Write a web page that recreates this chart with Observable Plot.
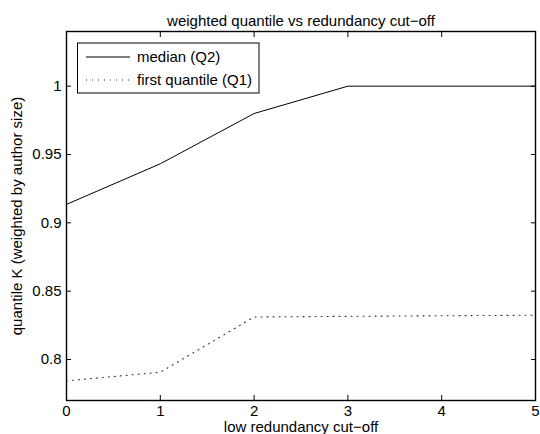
<!DOCTYPE html>
<html><head><meta charset="utf-8">
<script src="https://cdn.jsdelivr.net/npm/d3@7"></script>
<script src="https://cdn.jsdelivr.net/npm/@observablehq/plot@0.6"></script>
<style>
body{margin:0;background:#fff} svg{display:block}
svg g[aria-label$="tick label"] text{font-size:15px}
</style>
</head><body><div id="chart"></div>
<script>
const cutoff = [0, 1, 2, 3, 4, 5];
const median = [0.9135, 0.9432, 0.9800, 1.0000, 1.0000, 1.0000];
const firstQuantile = [0.7844, 0.7907, 0.8311, 0.8316, 0.8320, 0.8324];
const xTicks = [0, 1, 2, 3, 4, 5];
const yTicks = [0.8, 0.85, 0.9, 0.95, 1];
const seriesNames = ["median (Q2)", "first quantile (Q1)"];
const title = "weighted quantile vs redundancy cut\u2212off";
const xLabel = "low redundancy cut\u2212off";
const yLabel = "quantile K (weighted by author size)";

const medianData = cutoff.map((x, i) => ({x, y: median[i]}));
const q1Data = cutoff.map((x, i) => ({x, y: firstQuantile[i]}));

const FONT = "'Liberation Sans', Arial, Helvetica, sans-serif";
const DOTS = "1,5";

const plot = Plot.plot({
  width: 540,
  height: 434,
  marginLeft: 66,
  marginRight: 5,
  marginTop: 31,
  marginBottom: 34,
  style: {fontFamily: FONT, fontSize: "15px", color: "#000", background: "#fff", overflow: "visible"},
  x: {domain: [0, 5]},
  y: {domain: [0.77, 1.04]},
  marks: [
    Plot.axisX({ticks: xTicks, anchor: "bottom", tickSize: -5, tickPadding: 10, tickFormat: d => String(d),
      label: xLabel, labelAnchor: "center", labelArrow: "none", labelOffset: 31, fontSize: 15}),
    Plot.axisX({ticks: xTicks, anchor: "top", tickSize: -5, tickFormat: () => "", label: null}),
    Plot.axisY({ticks: yTicks, anchor: "left", tickSize: -5, tickPadding: 10, tickFormat: d => String(d),
      label: yLabel, labelAnchor: "center", labelArrow: "none", labelOffset: 55, fontSize: 15}),
    Plot.axisY({ticks: yTicks, anchor: "right", tickSize: -5, tickFormat: () => "", label: null}),
    Plot.frame({stroke: "#000", strokeWidth: 1.4}),
    Plot.line(medianData, {x: "x", y: "y", stroke: "#000", strokeWidth: 1}),
    Plot.line(q1Data, {x: "x", y: "y", stroke: "#333", strokeWidth: 1.1, strokeDasharray: DOTS}),
    Plot.text([title], {frameAnchor: "top", dy: -16, fontSize: 15, fill: "#000"})
  ]
});
document.getElementById("chart").appendChild(plot);

// legend inside the axes (top-left)
const svg = d3.select(plot);
const g = svg.append("g").attr("font-family", FONT).attr("font-size", 15).attr("text-anchor", "start");
g.append("rect").attr("x", 77.5).attr("y", 43).attr("width", 181.5).attr("height", 50)
  .attr("fill", "#fff").attr("stroke", "#000").attr("stroke-width", 1);
const rows = [{name: seriesNames[0], dash: null, y: 57}, {name: seriesNames[1], dash: DOTS, y: 80}];
rows.forEach(r => {
  const ln = g.append("line").attr("x1", 86).attr("x2", 130).attr("y1", r.y).attr("y2", r.y)
    .attr("stroke", r.dash ? "#333" : "#000").attr("stroke-width", r.dash ? 1.1 : 1);
  if (r.dash) ln.attr("stroke-dasharray", r.dash);
  g.append("text").attr("x", 137).attr("y", r.y).attr("dy", "0.35em")
    .attr("text-anchor", "start").attr("fill", "#000").text(r.name);
});
</script>
</body></html>
